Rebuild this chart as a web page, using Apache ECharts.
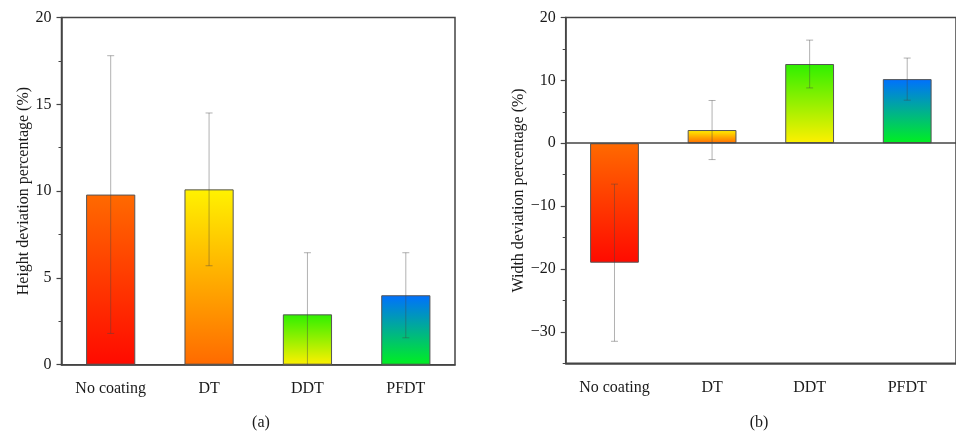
<!DOCTYPE html>
<html>
<head>
<meta charset="utf-8">
<script src="https://cdn.jsdelivr.net/npm/echarts@6/dist/echarts.min.js"></script>
<style>
  html, body { margin: 0; padding: 0; background: #ffffff; }
  #chart { width: 956px; height: 434px; }
</style>
</head>
<body>
<div id="chart"></div>
<script>
// Coating treatments on the x axis
const categories = ['No coating', 'DT', 'DDT', 'PFDT'];

// (a) height deviation: mean and standard deviation (%)
const heightMean = [9.8, 10.1, 2.9, 4.0];
const heightErr = [8.0, 4.4, 3.55, 2.45];

// (b) width deviation: mean and standard deviation (%)
const widthMean = [-19.0, 2.1, 12.6, 10.2];
const widthErr = [12.5, 4.7, 3.8, 3.35];

// axis tick labels
const heightTicks = [0, 5, 10, 15, 20];
const widthTicks = [-30, -20, -10, 0, 10, 20];

// per-bar gradient colours [top, bottom]
const heightColors = [
  ['#ff6a00', '#ff0a00'],
  ['#fff200', '#ff6a00'],
  ['#2ef000', '#fff000'],
  ['#0070ff', '#00f020']
];
const widthColors = [
  ['#ff6a00', '#ff0a00'],
  ['#fff200', '#ff6a00'],
  ['#2ef000', '#fff000'],
  ['#0070ff', '#00f020']
];

const FONT = "'Liberation Serif', 'DejaVu Serif', serif";
const AXIS = '#444';
const TEXT = '#1a1a1a';

function grad(c) {
  return new echarts.graphic.LinearGradient(0, 0, 0, 1, [
    { offset: 0, color: c[0] },
    { offset: 1, color: c[1] }
  ]);
}

function barData(means, colors) {
  return means.map((v, i) => ({
    value: v,
    itemStyle: { color: grad(colors[i]) }
  }));
}

function errData(means, errs) {
  return means.map((m, i) => [i, m - errs[i], m + errs[i]]);
}

function renderErr(params, api) {
  const x = api.value(0);
  const lo = api.coord([x, api.value(1)]);
  const hi = api.coord([x, api.value(2)]);
  const cap = 3.5;
  const style = { stroke: 'rgba(70,70,70,0.42)', lineWidth: 1, fill: null };
  return {
    type: 'group',
    children: [
      { type: 'line', shape: { x1: hi[0], y1: hi[1], x2: lo[0], y2: lo[1] }, style: style },
      { type: 'line', shape: { x1: hi[0] - cap, y1: hi[1], x2: hi[0] + cap, y2: hi[1] }, style: style },
      { type: 'line', shape: { x1: lo[0] - cap, y1: lo[1], x2: lo[0] + cap, y2: lo[1] }, style: style }
    ]
  };
}

const minus = v => String(v).replace('-', '\u2212');

function xAxisOf(gridIndex) {
  return {
    type: 'category',
    gridIndex: gridIndex,
    data: categories,
    position: 'bottom',
    axisLine: { onZero: false, lineStyle: { color: AXIS, width: 1.5 } },
    axisTick: { alignWithLabel: true, length: 5, lineStyle: { color: AXIS, width: 1.2 } },
    axisLabel: { color: TEXT, fontFamily: FONT, fontSize: 16, margin: 16 },
    splitLine: { show: false }
  };
}

function panelLabel(text, x) {
  return {
    type: 'text', x: x, y: 423,
    style: {
      text: text, fontFamily: FONT, fontSize: 16, fill: TEXT,
      textAlign: 'center', textVerticalAlign: 'middle'
    }
  };
}

const chart = echarts.init(document.getElementById('chart'), null, { renderer: 'canvas' });

chart.setOption({
  backgroundColor: '#ffffff',
  animation: false,
  graphic: [panelLabel('(a)', 261), panelLabel('(b)', 759)],
  grid: [
    { left: 61.5, top: 17.5, width: 393.5, height: 347.2, show: true,
      borderColor: AXIS, borderWidth: 1.5, backgroundColor: 'transparent' },
    { left: 565.7, top: 17.5, width: 393.5, height: 345.8, show: true,
      borderColor: AXIS, borderWidth: 1.5, backgroundColor: 'transparent' }
  ],
  xAxis: [xAxisOf(0), xAxisOf(1)],
  yAxis: [
    {
      type: 'value', gridIndex: 0, position: 'left',
      min: heightTicks[0], max: heightTicks[heightTicks.length - 1], interval: 5,
      name: 'Height deviation percentage (%)', nameLocation: 'middle', nameGap: 30,
      nameTextStyle: { fontFamily: FONT, fontSize: 16, color: TEXT },
      axisLine: { show: true, lineStyle: { color: AXIS, width: 1.5 } },
      axisTick: { show: true, length: 5, lineStyle: { color: AXIS, width: 1.2 } },
      minorTick: { show: true, splitNumber: 2, length: 3, lineStyle: { color: AXIS, width: 1 } },
      axisLabel: { color: TEXT, fontFamily: FONT, fontSize: 16, margin: 10 },
      splitLine: { show: false }
    },
    {
      type: 'value', gridIndex: 1, position: 'left',
      min: -35, max: 20, interval: 5,
      name: 'Width deviation percentage (%)', nameLocation: 'middle', nameGap: 39,
      nameTextStyle: { fontFamily: FONT, fontSize: 16, color: TEXT },
      axisLine: { show: true, onZero: false, lineStyle: { color: AXIS, width: 1.5 } },
      axisTick: { show: true, length: 3, lineStyle: { color: AXIS, width: 1 } },
      axisLabel: {
        color: TEXT, fontFamily: FONT, fontSize: 16, margin: 10,
        formatter: v => (widthTicks.indexOf(v) >= 0 ? minus(v) : '')
      },
      splitLine: { show: false }
    },
    {
      // longer major ticks at the labelled values of (b)
      type: 'value', gridIndex: 1, position: 'left',
      min: -35, max: 20, interval: 5,
      axisLine: { show: false },
      axisTick: { show: true, length: 5, customValues: widthTicks, lineStyle: { color: AXIS, width: 1.2 } },
      axisLabel: { show: false },
      splitLine: { show: false }
    }
  ],
  series: [
    {
      type: 'bar', xAxisIndex: 0, yAxisIndex: 0, barWidth: '50%',
      data: barData(heightMean, heightColors),
      itemStyle: { borderColor: '#555', borderWidth: 1 },
      z: 2
    },
    {
      type: 'custom', xAxisIndex: 0, yAxisIndex: 0, clip: true,
      renderItem: renderErr, data: errData(heightMean, heightErr), z: 5
    },
    {
      type: 'bar', xAxisIndex: 1, yAxisIndex: 1, barWidth: '50%',
      data: barData(widthMean, widthColors),
      itemStyle: { borderColor: '#555', borderWidth: 1 },
      markLine: {
        silent: true, symbol: 'none', label: { show: false },
        lineStyle: { color: AXIS, width: 1.5, type: 'solid' },
        data: [{ yAxis: 0 }]
      },
      z: 2
    },
    {
      type: 'custom', xAxisIndex: 1, yAxisIndex: 1, clip: true,
      renderItem: renderErr, data: errData(widthMean, widthErr), z: 5
    }
  ]
});
</script>
</body>
</html>
